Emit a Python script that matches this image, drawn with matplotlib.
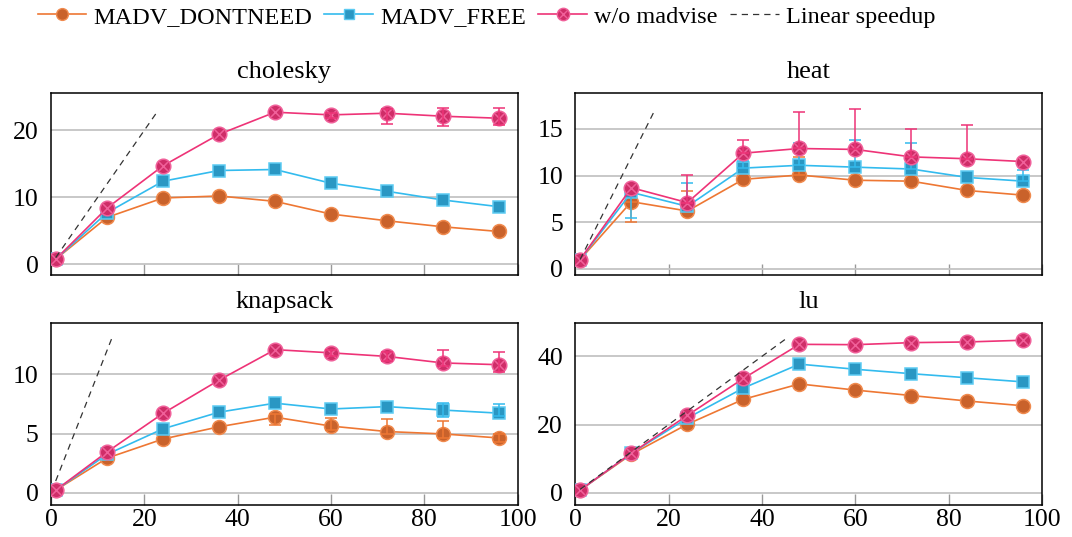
import numpy as np
import matplotlib
matplotlib.use('Agg')
import matplotlib.pyplot as plt
from matplotlib.path import Path
from matplotlib.lines import Line2D

plt.rcParams['font.family'] = ['Liberation Serif', 'DejaVu Serif']
plt.rcParams['font.size'] = 19

# ---------------- data ----------------
threads = [1, 12, 24, 36, 48, 60, 72, 84, 96]

# cholesky
chol_dontneed = [0.76, 7.0, 9.9, 10.2, 9.4, 7.5, 6.5, 5.6, 4.9]
chol_free = [0.76, 7.7, 12.4, 14.0, 14.15, 12.1, 10.9, 9.6, 8.6]
chol_none = [0.76, 8.4, 14.7, 19.4, 22.7, 22.3, 22.55, 22.1, 21.8]
chol_none_lo = [0, 0, 0, 0, 0, 0.4, 1.55, 1.4, 1.0]
chol_none_hi = [0, 0, 0, 0, 0, 0.3, 0.6, 1.3, 1.5]

# heat
heat_dontneed = [1.0, 7.2, 6.2, 9.6, 10.06, 9.5, 9.4, 8.4, 7.9]
heat_dontneed_lo = [0, 2.15, 0, 0, 0, 0, 0, 0, 0]
heat_dontneed_hi = [0, 0, 2.1, 0, 1.9, 0, 0, 0, 0]
heat_free = [1.0, 8.2, 6.7, 10.8, 11.1, 10.9, 10.7, 9.8, 9.4]
heat_free_lo = [0, 2.75, 0, 0, 0, 0, 0, 0, 0]
heat_free_hi = [0, 0, 2.55, 0.8, 2.4, 2.9, 2.75, 0, 1.2]
heat_none = [1.0, 8.7, 7.1, 12.4, 12.9, 12.8, 12.0, 11.8, 11.5]
heat_none_lo = [0, 0, 0, 0, 0, 0, 0, 0, 0]
heat_none_hi = [0, 0, 3.0, 1.45, 3.9, 4.3, 2.95, 3.6, 0]

# knapsack
knap_dontneed = [0.23, 2.93, 4.54, 5.57, 6.38, 5.63, 5.17, 4.97, 4.63]
knap_dontneed_lo = [0, 0, 0, 0, 0.65, 0.3, 0.2, 0.35, 0.3]
knap_dontneed_hi = [0, 0, 0, 0, 0.3, 0.65, 1.05, 1.05, 0.3]
knap_free = [0.23, 3.25, 5.4, 6.8, 7.56, 7.07, 7.27, 6.98, 6.72]
knap_free_lo = [0, 0, 0, 0, 0, 0, 0, 0.6, 0.2]
knap_free_hi = [0, 0, 0, 0, 0, 0, 0, 0.6, 0.75]
knap_none = [0.23, 3.45, 6.7, 9.5, 12.07, 11.8, 11.5, 10.95, 10.8]
knap_none_lo = [0, 0, 0, 0, 0, 0.25, 0.35, 0.3, 0.6]
knap_none_hi = [0, 0, 0, 0, 0, 0.25, 0.35, 1.1, 1.05]

# lu
lu_dontneed = [0.8, 11.3, 20.1, 27.4, 31.9, 30.1, 28.5, 26.9, 25.5]
lu_free = [0.8, 11.6, 21.9, 30.7, 37.7, 36.2, 34.9, 33.7, 32.5]
lu_none = [0.8, 11.6, 22.7, 33.5, 43.5, 43.4, 44.0, 44.2, 44.7]

# linear speedup segments (x = y)
chol_linear = [1, 23]
heat_linear = [1, 17]
knap_linear = [1, 13]
lu_linear = [1, 45]

titles = ['cholesky', 'heat', 'knapsack', 'lu']
labels = ['MADV_DONTNEED', 'MADV_FREE', 'w/o madvise', 'Linear speedup']

# ---------------- style ----------------
line_colors = ['#EE7733', '#33BBEE', '#EE3377']
fill_colors = ['#C9622B', '#2A97C3', '#CF2D68']
edge_colors = ['#F08A4E', '#5CCBF2', '#F0609A']

d = 0.6
otimes = Path.make_compound_path(
    Path.unit_circle(),
    Path([[-d, -d], [d, d], [-d, d], [d, -d]],
         [Path.MOVETO, Path.LINETO, Path.MOVETO, Path.LINETO]))
markers = ['o', 's', otimes]
msizes = [10, 9, 10.5]

panels = [
    (chol_dontneed, [0] * 9, [0] * 9, chol_free, [0] * 9, [0] * 9,
     chol_none, chol_none_lo, chol_none_hi, chol_linear, (-1.6, 25.5), [0, 10, 20]),
    (heat_dontneed, heat_dontneed_lo, heat_dontneed_hi, heat_free, heat_free_lo, heat_free_hi,
     heat_none, heat_none_lo, heat_none_hi, heat_linear, (-0.66, 18.8), [0, 5, 10, 15]),
    (knap_dontneed, knap_dontneed_lo, knap_dontneed_hi, knap_free, knap_free_lo, knap_free_hi,
     knap_none, knap_none_lo, knap_none_hi, knap_linear, (-1.0, 14.3), [0, 5, 10]),
    (lu_dontneed, [0] * 9, [0] * 9, lu_free, [0] * 9, [0] * 9,
     lu_none, [0] * 9, [0] * 9, lu_linear, (-3.5, 49.7), [0, 20, 40]),
]

fig, axes = plt.subplots(2, 2, figsize=(10.72, 5.37), dpi=100)
fig.subplots_adjust(left=0.0476, right=0.972, top=0.826, bottom=0.06,
                    wspace=0.124, hspace=0.265)

x = np.array(threads)
for ax, title, p in zip(axes.flat, titles, panels):
    series = [(p[0], p[1], p[2]), (p[3], p[4], p[5]), (p[6], p[7], p[8])]
    for k, (vals, lo, hi) in enumerate(series):
        z = 3 + 2 * k
        ax.plot(x, vals, color=line_colors[k], lw=1.2, marker=markers[k],
                ms=msizes[k], mfc=fill_colors[k], mec=edge_colors[k], mew=1.1,
                zorder=z)
        lo = np.array(lo, dtype=float)
        hi = np.array(hi, dtype=float)
        m = (lo + hi) > 0
        if m.any():
            ax.errorbar(x[m], np.array(vals)[m], yerr=[lo[m], hi[m]], fmt='none',
                        ecolor=line_colors[k], elinewidth=1.1, capsize=4,
                        capthick=1.1, zorder=z + 1)
    lin = p[9]
    ax.plot(lin, lin, color='#333333', lw=0.9, ls=(0, (5, 4)), zorder=9)

    ax.set_xlim(0, 100)
    ax.set_ylim(*p[10])
    ax.set_yticks(p[11])
    ax.set_xticks([0, 20, 40, 60, 80, 100])
    ax.grid(axis='y', color='#c4c4c4', lw=1.3, zorder=0)
    ax.set_axisbelow(True)
    ax.tick_params(axis='x', direction='in', length=8, width=1.0,
                   color='#999999', pad=3, labelsize=18.5)
    ax.tick_params(axis='y', direction='in', length=0, pad=9, labelsize=18.5)
    for s in ax.spines.values():
        s.set_linewidth(1.1)
        s.set_color('black')
    ax.set_title(title, fontsize=19, pad=11)

for ax in axes[0]:
    ax.tick_params(axis='x', labelbottom=False)

handles = [
    Line2D([], [], color=line_colors[k], lw=1.2, marker=markers[k], ms=msizes[k] * 0.85,
           mfc=fill_colors[k], mec=edge_colors[k], mew=1.0)
    for k in range(3)
]
handles.append(Line2D([], [], color='#333333', lw=0.9, ls=(0, (5, 4))))
fig.legend(handles, labels, loc='center left', bbox_to_anchor=(0.035, 0.969),
           ncol=4, frameon=False, handlelength=2.0, handletextpad=0.3,
           columnspacing=0.5, borderpad=0, borderaxespad=0, fontsize=17.5)

plt.savefig('out.png', dpi=100)
